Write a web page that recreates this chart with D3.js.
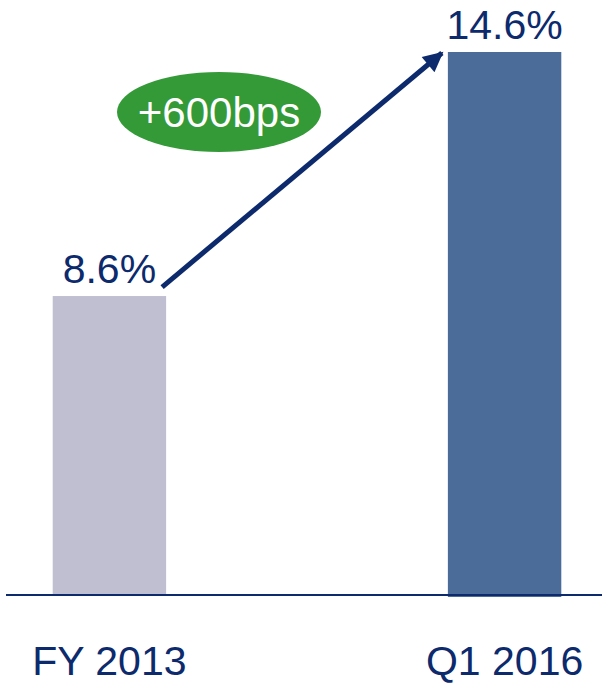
<!DOCTYPE html>
<html>
<head>
<meta charset="utf-8">
<script src="https://cdn.jsdelivr.net/npm/d3@7"></script>
<style>
  html, body { margin: 0; padding: 0; background: #fff; }
  svg { display: block; }
  text { font-family: "Liberation Sans", Arial, sans-serif; }
</style>
</head>
<body>
<svg id="chart" width="602" height="684"></svg>
<script>
// Operating margin by period
const categories = ["FY 2013", "Q1 2016"];
const values = [8.6, 14.6];
const valueLabels = ["8.6%", "14.6%"];
const barColors = ["#c0bfd1", "#4b6b99"];
const changeLabel = "+600bps";

const width = 602, height = 684;
const baseY = 595;
const navy = "#0c2a6c";

const svg = d3.select("#chart");

const x = d3.scaleBand()
  .domain(categories)
  .range([12, 602])
  .paddingInner(0.713)
  .paddingOuter(0.103);

const y = d3.scaleLinear()
  .domain([1.25, 14.6])
  .range([baseY, 52]);

// Bars
svg.selectAll("rect.bar")
  .data(values)
  .join("rect")
  .attr("class", "bar")
  .attr("x", (d, i) => x(categories[i]))
  .attr("width", x.bandwidth())
  .attr("y", d => y(d))
  .attr("height", (d, i) => baseY - y(d) + (i === 1 ? 2 : 0))
  .attr("fill", (d, i) => barColors[i]);

// Baseline
svg.append("line")
  .attr("x1", 6).attr("x2", 602)
  .attr("y1", baseY).attr("y2", baseY)
  .attr("stroke", navy)
  .attr("stroke-width", 2);

// Value labels above bars
svg.selectAll("text.value")
  .data(values)
  .join("text")
  .attr("class", "value")
  .attr("x", (d, i) => x(categories[i]) + x.bandwidth() / 2)
  .attr("y", d => y(d) - 13)
  .attr("text-anchor", "middle")
  .attr("font-size", 41)
  .attr("fill", navy)
  .text((d, i) => valueLabels[i]);

// Category labels
svg.selectAll("text.cat")
  .data(categories)
  .join("text")
  .attr("class", "cat")
  .attr("x", d => x(d) + x.bandwidth() / 2)
  .attr("y", 675)
  .attr("text-anchor", "middle")
  .attr("font-size", 41)
  .attr("fill", navy)
  .text(d => d);

// Growth arrow from the first label to the second bar
const defs = svg.append("defs");
defs.append("marker")
  .attr("id", "head")
  .attr("viewBox", "0 0 10 10")
  .attr("refX", 9).attr("refY", 5)
  .attr("markerWidth", 4.6).attr("markerHeight", 4)
  .attr("markerUnits", "strokeWidth")
  .attr("orient", "auto")
  .append("path")
  .attr("d", "M0,0 L10,5 L0,10 Z")
  .attr("fill", navy);

const x0 = x(categories[0]) + x.bandwidth() - 4;
const y0 = y(values[0]) - 9;
const x1 = x(categories[1]) - 6;
const y1 = y(values[1]) + 1;
svg.append("line")
  .attr("x1", x0).attr("y1", y0)
  .attr("x2", x1).attr("y2", y1)
  .attr("stroke", navy)
  .attr("stroke-width", 5)
  .attr("marker-end", "url(#head)");

// Change badge
const badge = svg.append("g").attr("transform", "translate(219,112)");
badge.append("ellipse")
  .attr("rx", 102).attr("ry", 40)
  .attr("fill", "#349a38");
badge.append("text")
  .attr("y", 15)
  .attr("text-anchor", "middle")
  .attr("font-size", 42)
  .attr("fill", "#fff")
  .text(changeLabel);
</script>
</body>
</html>
